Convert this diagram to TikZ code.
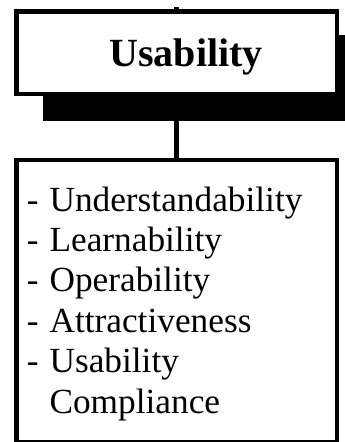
\documentclass[tikz,border=0pt]{standalone}
\usepackage{fontspec}
\setmainfont{Liberation Serif}
\newcommand{\listdash}{-\hspace{11pt}}
\begin{document}
\begin{tikzpicture}[x=1pt,y=-1pt,line join=miter,
    boxline/.style={draw=black,line width=4.5pt,fill=white,inner sep=0pt},
    itemtext/.style={anchor=base west,inner sep=0pt,font=\fontsize{35.3}{40}\selectfont}]
    \useasboundingbox (0,0) rectangle (345,442);
    \clip (0,0) rectangle (345,442);
    % drop shadow behind the header box
    \fill[black] (43,35) rectangle (368,121);
    \node[boxline,minimum width=320.5pt,minimum height=82.5pt] (head) at (176.5,52.5) {};
    \node[anchor=base,inner sep=0pt,font=\fontsize{40}{44}\bfseries\selectfont] (headtext) at (186,66) {Usability};
    \node[boxline,minimum width=320.5pt,minimum height=281.75pt] (list) at (176.5,301.1) {};
    \foreach \i/\txt in {1/{\listdash Understandability},2/{\listdash Learnability},3/{\listdash Operability},
        4/{\listdash Attractiveness},5/{\listdash Usability},6/{\phantom{\listdash}Compliance}} {
        \node[itemtext] (item\i) at (26.6,{211+40.4*(\i-1)}) {\txt};
    }
    % connectors
    \coordinate (stub) at (176.5,7);
    \draw[line width=4.5pt] (head.north) -- (stub);
    \draw[line width=4.5pt] (head.south) -- (list.north);
\end{tikzpicture}
\end{document}
